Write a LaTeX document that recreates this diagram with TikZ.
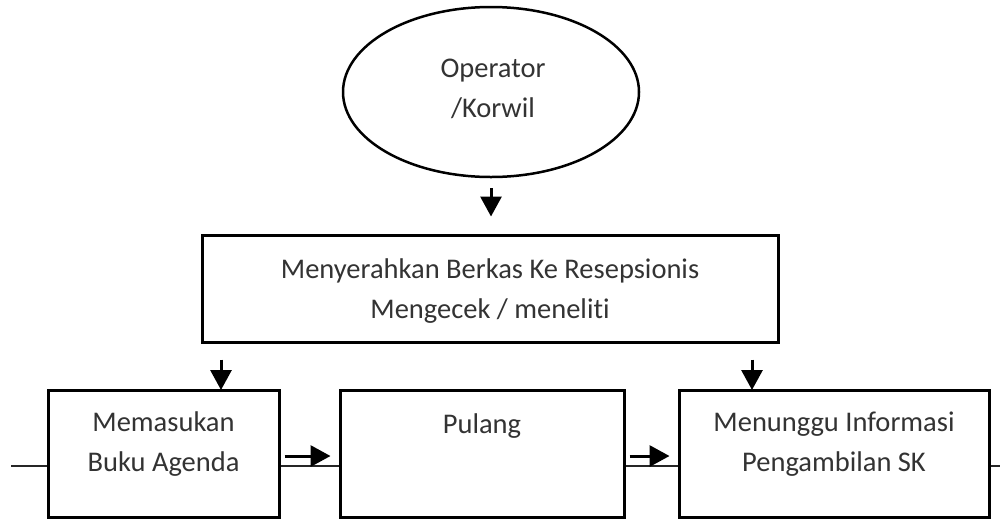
\documentclass[tikz,border=0pt]{standalone}
\usepackage{fontspec}
\setmainfont[Ligatures={NoCommon}]{Carlito}
\usetikzlibrary{arrows.meta,shapes.geometric}
\begin{document}
\begin{tikzpicture}[x=1pt,y=-1pt,
  box/.style={draw=black,line width=3pt,fill=white,rectangle,inner sep=0pt},
  oval/.style={draw=black,line width=2.5pt,fill=white,ellipse,inner sep=0pt,minimum width=296pt,minimum height=170pt},
  txt/.style={text=black!80,font=\fontsize{28.5}{40}\selectfont,align=center,inner sep=0pt},
  arr/.style={line width=3pt,-{Triangle[width=21pt,length=20pt]}},
  thin/.style={line width=1.5pt,draw=black!85}]
\useasboundingbox (0,0) rectangle (1000,520);
\coordinate (L) at (11,466);
\coordinate (R) at (1000,466);
\draw[thin] (L) -- (R);
\node[oval] (op) at (491,92) {};
\node[txt] (opt) at (493,89) {Operator\\/Korwil};
\node[box,minimum width=576pt,minimum height=107pt] (rec) at (490,288.5) {};
\node[txt] (rect) at (490,291) {Menyerahkan Berkas Ke Resepsionis\\Mengecek / meneliti};
\node[box,minimum width=231pt,minimum height=127pt] (a) at (163.5,453.5) {};
\node[txt] (at) at (163.5,444) {Memasukan\\Buku Agenda};
\node[box,minimum width=284pt,minimum height=127pt] (p) at (482,453.5) {};
\node[txt,anchor=base] (pt) at (482,433) {Pulang};
\node[box,minimum width=310pt,minimum height=127pt] (c) at (834,453.5) {};
\node[txt] (ct) at (834,444) {Menunggu Informasi\\Pengambilan SK};
\draw[arr,shorten <=10pt,shorten >=17pt] (op.south) -- (op.south |- rec.north);
\coordinate (a1) at (221,390);
\coordinate (c1) at (752,390);
\draw[arr,shorten <=16pt] (rec.south -| a1) -- (a1);
\draw[arr,shorten <=16pt] (rec.south -| c1) -- (c1);
\coordinate (h1) at (0,456);
\draw[arr,shorten <=4pt,shorten >=8pt] (a.east |- h1) -- (p.west |- h1);
\draw[arr,shorten <=4pt,shorten >=8pt] (p.east |- h1) -- (c.west |- h1);
\end{tikzpicture}
\end{document}
